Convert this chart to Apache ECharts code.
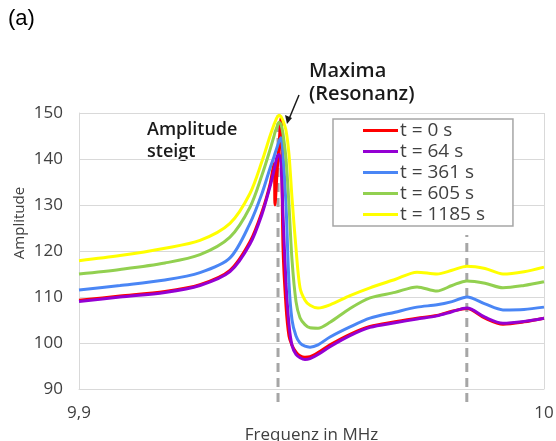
<!DOCTYPE html>
<html>
<head>
<meta charset="utf-8">
<script src="https://cdn.jsdelivr.net/npm/echarts@6/dist/echarts.min.js"></script>
<style>
  html, body { margin: 0; padding: 0; background: #fff; }
  #chart { width: 556px; height: 441px; }
</style>
</head>
<body>
<div id="chart"></div>
<script>
// Frequenz (MHz), gemeinsame Stuetzstellen aller Kurven
var freq = [9.9, 9.90882, 9.91849, 9.92602, 9.93247, 9.93677, 9.93935, 9.94108, 9.94194, 9.94215,
    9.94258, 9.94301, 9.94344, 9.94387, 9.94452, 9.94516, 9.94581, 9.94667, 9.94753, 9.9486,
    9.94968, 9.9514, 9.95398, 9.95828, 9.96258, 9.96796, 9.97269, 9.97699, 9.98022, 9.98344,
    9.98731, 9.99118, 9.9957, 10.0];

var amp_t0 = [109.3, 110.2, 111.2, 112.7, 115.8, 122, 128.5, 134.5, 139, 130,
    137, 143, 149, 121, 108, 101.5, 99.5, 98, 97.2, 96.9,
    97, 97.9, 99.6, 101.9, 103.6, 104.6, 105.4, 106, 106.9, 107.5,
    105.4, 104.1, 104.6, 105.4];
var amp_t64 = [109, 110, 111, 112.5, 115.5, 121.5, 128, 134, 137.5, 138.5,
    140.5, 141, 139, 128, 113, 104, 99.5, 97.5, 96.8, 96.4,
    96.6, 97.5, 99.2, 101.6, 103.4, 104.4, 105.2, 105.9, 106.8, 107.6,
    105.6, 104.3, 104.7, 105.4];
var amp_t361 = [111.5, 112.5, 113.7, 115.3, 118.5, 126, 132.5, 138, 140.5, 141.2,
    142.5, 143.8, 144.6, 141, 130, 113, 105, 101.5, 100, 99.3,
    99.1, 99.6, 101.3, 103.5, 105.4, 106.7, 107.8, 108.3, 109, 110,
    108.5, 107.2, 107.3, 107.8];
var amp_t605 = [115, 116, 117.4, 119.2, 123, 129.5, 136.5, 142, 145, 145.8,
    147, 148, 147.5, 145.5, 140, 130, 118, 109, 105.5, 104,
    103.3, 103.2, 104.5, 107.5, 109.8, 111, 112.2, 111.3, 112.5, 113.5,
    113, 112, 112.5, 113.3];
var amp_t1185 = [117.9, 119, 120.6, 122.3, 126, 132.5, 139.5, 145, 147.5, 148,
    149, 149.5, 149.2, 148.3, 146.2, 141, 131.5, 120.5, 112, 109.3,
    108.2, 107.6, 108.3, 110.3, 112, 113.8, 115.4, 115, 115.8, 116.7,
    116.2, 115, 115.5, 116.5];

var seriesNames = ['t = 0 s', 't = 64 s', 't = 361 s', 't = 605 s', 't = 1185 s'];
var seriesColors = ['#ff0000', '#9400d3', '#4a86f5', '#92d050', '#ffff00'];
var seriesValues = [amp_t0, amp_t64, amp_t361, amp_t605, amp_t1185];

// gestrichelte Markierungen (Resonanz, zweites Maximum): Frequenz, unteres und oberes Ende
var markFreq = [9.9428, 9.9834];
var markBottom = [87.2, 87.2];
var markTop = [149.5, 123.5];

var FONT = 'Open Sans';

var chart = echarts.init(document.getElementById('chart'));

var series = [];
markFreq.forEach(function (f, k) {
    series.push({
        name: 'mark' + k,
        type: 'line',
        data: [[f, markBottom[k]], [f, markTop[k]]],
        symbol: 'none',
        clip: false,
        silent: true,
        lineStyle: { color: '#a6a6a6', width: 3, type: [9, 6] },
        z: 1
    });
});
seriesValues.forEach(function (vals, i) {
    series.push({
        name: seriesNames[i],
        type: 'line',
        data: freq.map(function (f, k) { return [f, vals[k]]; }),
        symbol: 'none',
        smooth: 0.3,
        lineStyle: { color: seriesColors[i], width: 3 },
        itemStyle: { color: seriesColors[i] },
        z: 3
    });
});

var option = {
    backgroundColor: '#fff',
    animation: false,
    grid: { left: 79, right: 12, top: 113, bottom: 52, outerBoundsMode: 'none' },
    xAxis: {
        type: 'value',
        min: 9.9,
        max: 10,
        interval: 0.1,
        name: 'Frequenz in MHz',
        nameLocation: 'middle',
        nameGap: 38,
        nameTextStyle: { fontFamily: FONT, fontSize: 17, color: '#404040' },
        axisLine: { show: true, lineStyle: { color: '#d9d9d9', width: 1 } },
        axisTick: { show: false },
        splitLine: { show: true, lineStyle: { color: '#d9d9d9', width: 1 } },
        axisLabel: {
            fontFamily: FONT, fontSize: 17, color: '#404040', margin: 16,
            formatter: function (v) { return (Math.round(v * 10) / 10).toString().replace('.', ','); }
        }
    },
    yAxis: {
        type: 'value',
        min: 90,
        max: 150,
        interval: 10,
        axisLine: { show: true, lineStyle: { color: '#d9d9d9', width: 1 } },
        axisTick: { show: false },
        splitLine: { show: true, lineStyle: { color: '#d9d9d9', width: 1 } },
        axisLabel: { fontFamily: FONT, fontSize: 17, color: '#404040', margin: 16 }
    },
    legend: {
        orient: 'vertical',
        left: 333,
        top: 119,
        data: seriesNames,
        icon: 'rect',
        itemWidth: 35,
        itemHeight: 3,
        itemGap: 2,
        padding: [2, 28, 2, 30],
        backgroundColor: '#fff',
        borderColor: '#a6a6a6',
        borderWidth: 1.5,
        textStyle: { fontFamily: FONT, fontSize: 19, color: '#404040', padding: [0, 0, 0, -3] }
    },
    graphic: [
        { type: 'text', left: 8, top: 8, style: { text: '(a)', font: '22px "Liberation Sans"', fill: '#000' } },
        {
            type: 'text', left: 309, top: 60,
            style: { text: 'Maxima\n(Resonanz)', font: '600 20px "Open Sans"', lineHeight: 23, fill: '#1a1a1a' }
        },
        {
            type: 'text', left: 147, top: 119,
            style: { text: 'Amplitude\nsteigt', font: '600 18px "Open Sans"', lineHeight: 22, fill: '#1a1a1a' }
        },
        {
            type: 'text', x: 20, y: 223, rotation: Math.PI / 2,
            style: { text: 'Amplitude', font: '15px "Open Sans"', fill: '#404040', align: 'center', verticalAlign: 'middle' }
        },
        // Pfeil auf das Maximum
        { type: 'line', shape: { x1: 299, y1: 95, x2: 289, y2: 119 }, style: { stroke: '#1a1a1a', lineWidth: 1.5 }, z: 10 },
        { type: 'polygon', shape: { points: [[287, 124], [285, 115], [292, 118]] }, style: { fill: '#1a1a1a' }, z: 10 }
    ],
    series: series
};

chart.setOption(option);
</script>
</body>
</html>
